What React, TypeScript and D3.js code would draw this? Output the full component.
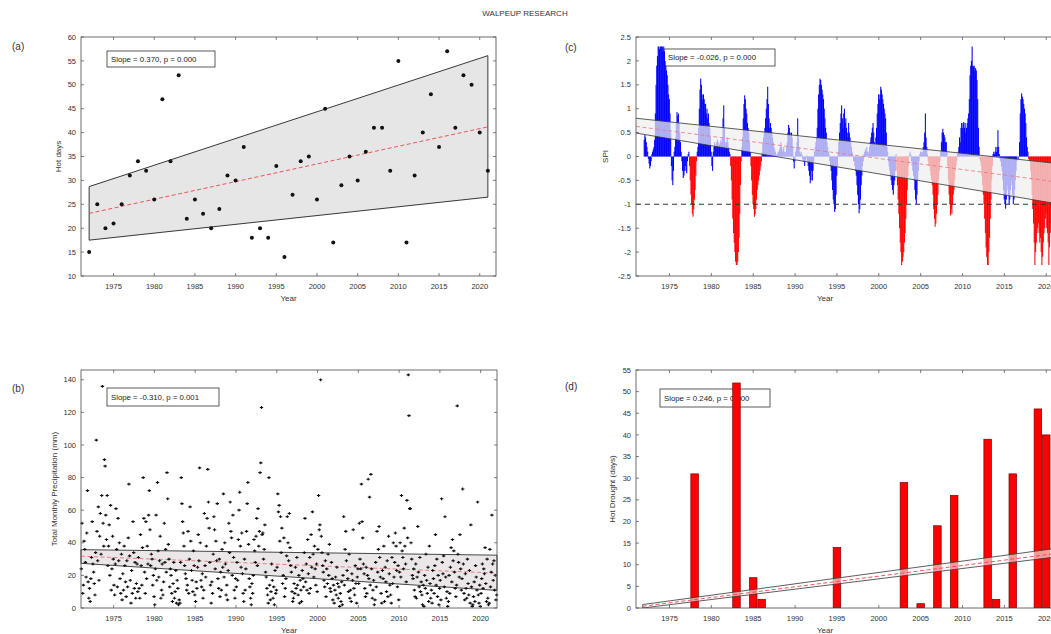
import React from 'react';
import * as d3 from 'd3';

const W = 1051;
const H = 634;
const FONT = 'Liberation Sans, Arial, Helvetica, sans-serif';
const AX = '#4a4a4a';

// ---------- shared ----------
const title = 'WALPEUP RESEARCH';
const xDomain = [1971, 2022];
const yearTicks = [1975, 1980, 1985, 1990, 1995, 2000, 2005, 2010, 2015, 2020];

// ---------- (a) Hot days ----------
const hotStartYear = 1972;
const hotDays = [15, 25, 20, 21, 25, 31, 34, 32, 26, 47, 34, 52, 22, 26, 23, 20, 24, 31, 30, 37,
  18, 20, 18, 33, 14, 27, 34, 35, 26, 45, 17, 29, 35, 30, 36, 41, 41, 32, 55, 17,
  31, 40, 48, 37, 57, 41, 52, 50, 40, 32];
const hotBandYears = [1972, 2021];
const hotUpper = [28.7, 56.1];
const hotLower = [17.5, 26.5];
const hotFit = [23.1, 41.2];
const hotYTicks = [10, 15, 20, 25, 30, 35, 40, 45, 50, 55, 60];
const hotLegend = 'Slope = 0.370, p = 0.000';

// ---------- (b) Total monthly precipitation ----------
const precipStartYear = 1971;
const precipByYear = [
  [24, 52, 9, 14, 41, 36, 28, 19, 46, 72, 16, 6],
  [12, 4, 18, 31, 53, 27, 22, 15, 8, 34, 103, 47],
  [29, 62, 17, 44, 58, 33, 69, 136, 52, 38, 91, 87],
  [57, 42, 69, 26, 38, 51, 20, 63, 11, 24, 44, 30],
  [14, 8, 27, 61, 36, 13, 55, 29, 40, 18, 9, 33],
  [5, 21, 11, 38, 26, 16, 7, 29, 13, 43, 76, 32],
  [17, 3, 23, 9, 53, 34, 12, 28, 6, 15, 27, 10],
  [31, 12, 6, 45, 26, 14, 37, 80, 55, 22, 9, 53],
  [18, 38, 27, 57, 72, 48, 26, 33, 30, 14, 20, 7],
  [2, 24, 57, 17, 77, 35, 19, 29, 44, 6, 11, 27],
  [8, 16, 52, 28, 36, 22, 83, 67, 39, 30, 13, 24],
  [20, 9, 4, 15, 28, 6, 10, 23, 3, 17, 12, 2],
  [5, 3, 28, 80, 64, 53, 46, 38, 26, 21, 18, 11],
  [14, 47, 9, 30, 62, 41, 23, 17, 10, 35, 26, 8],
  [4, 16, 12, 25, 45, 29, 86, 40, 17, 13, 21, 6],
  [11, 58, 26, 19, 38, 55, 85, 65, 49, 28, 14, 3],
  [16, 9, 33, 56, 48, 24, 41, 29, 64, 18, 12, 30],
  [7, 22, 11, 36, 25, 70, 19, 40, 27, 8, 14, 5],
  [23, 52, 34, 65, 47, 43, 20, 57, 31, 11, 6, 18],
  [13, 28, 17, 42, 60, 71, 38, 25, 46, 21, 9, 4],
  [30, 11, 24, 47, 64, 77, 39, 18, 13, 6, 2, 15],
  [9, 20, 42, 35, 28, 44, 55, 26, 61, 38, 47, 83],
  [89, 123, 45, 46, 30, 36, 51, 22, 19, 12, 8, 3],
  [80, 14, 5, 10, 27, 17, 6, 13, 2, 23, 9, 11],
  [25, 70, 59, 63, 41, 56, 34, 49, 15, 20, 43, 7],
  [12, 18, 32, 56, 40, 29, 58, 37, 26, 22, 10, 4],
  [6, 15, 9, 25, 12, 31, 14, 8, 20, 3, 17, 11],
  [4, 23, 18, 13, 34, 55, 16, 27, 11, 42, 21, 9],
  [31, 12, 45, 25, 59, 33, 19, 38, 24, 14, 27, 10],
  [36, 69, 48, 51, 140, 44, 34, 26, 22, 17, 13, 29],
  [7, 24, 15, 33, 20, 39, 12, 10, 28, 18, 5, 14],
  [3, 11, 19, 8, 25, 15, 6, 13, 1, 9, 4, 16],
  [2, 20, 56, 14, 36, 47, 29, 23, 18, 10, 33, 6],
  [11, 4, 21, 17, 48, 12, 8, 26, 15, 3, 19, 24],
  [15, 52, 30, 24, 76, 53, 43, 27, 21, 12, 7, 25],
  [9, 20, 79, 18, 68, 14, 82, 24, 6, 11, 17, 2],
  [5, 28, 13, 47, 22, 36, 50, 31, 19, 9, 3, 23],
  [18, 38, 4, 25, 16, 10, 29, 7, 44, 21, 14, 8],
  [3, 31, 15, 40, 19, 28, 46, 38, 23, 13, 26, 5],
  [22, 40, 19, 69, 35, 31, 24, 49, 38, 27, 16, 66],
  [43, 143, 118, 61, 61, 40, 30, 20, 18, 24, 11, 7],
  [27, 6, 19, 50, 22, 13, 31, 10, 16, 8, 2, 14],
  [1, 20, 12, 33, 17, 9, 25, 4, 38, 15, 6, 11],
  [3, 23, 18, 9, 26, 45, 14, 30, 7, 20, 2, 12],
  [17, 5, 67, 28, 21, 32, 13, 56, 19, 6, 10, 1],
  [4, 20, 9, 25, 37, 16, 42, 29, 35, 22, 12, 7],
  [14, 124, 33, 28, 19, 45, 24, 11, 18, 73, 27, 9],
  [5, 21, 12, 6, 30, 15, 8, 23, 3, 51, 13, 1],
  [2, 7, 16, 4, 26, 19, 11, 65, 8, 3, 14, 1],
  [9, 18, 27, 12, 24, 21, 37, 15, 4, 30, 6, 2],
  [3, 36, 13, 22, 57, 27, 17, 29, 11, 20, 5, 8],
];
const precipBandYears = [1971, 2022];
const precipUpper = [35.8, 32.4];
const precipLower = [27.4, 10.8];
const precipFit = [31.8, 21.4];
const precipYTicks = [0, 20, 40, 60, 80, 100, 120, 140];
const precipYMax = 146;
const precipLegend = 'Slope = -0.310, p = 0.001';

// ---------- (c) SPI ----------
const spiStartYear = 1971;
const spiByYear: (number | null)[][] = [
  [null, null, null, null, null, null, null, null, null, null, null, 0.35],
  [0.45, 0.4, 0.3, 0.2, 0.1, -0.05, -0.15, -0.25, -0.2, -0.1, 0.05, 0.1],
  [0.15, 0.2, 0.35, 0.9, 1.5, 1.9, 2.1, 2.3, 2.3, 2.25, 2.3, 2.3],
  [2.3, 2.3, 2.2, 2.3, 2.2, 2.0, 1.9, 1.8, 1.7, 1.5, 1.3, 1.2],
  [0.9, 0.5, -0.2, -0.5, -0.6, -0.3, 0.1, 0.2, 0.4, 0.7, 0.93, 0.85],
  [0.9, 0.7, 0.5, 0.3, 0.1, -0.1, -0.3, -0.45, -0.4, -0.3, -0.2, -0.3],
  [-0.35, -0.1, 0.05, 0.1, -0.2, -0.5, -0.8, -1.0, -1.2, -1.26, -1.1, -0.9],
  [-0.7, -0.4, -0.1, 0.1, 0.2, 0.6, 1.0, 1.4, 1.63, 1.5, 1.3, 1.2],
  [1.3, 1.2, 1.1, 1.1, 0.9, 1.0, 0.8, 0.9, 0.7, 0.6, 0.4, 0.1],
  [-0.2, -0.3, 0.1, 0.2, 0.3, 0.25, 0.2, 0.3, 0.35, 0.3, 0.2, 0.25],
  [0.3, 0.35, 0.3, 0.4, 0.8, 1.07, 0.6, 0.3, 0.25, 0.3, 0.4, 0.3],
  [0.2, 0.1, 0.05, -0.2, -0.5, -0.9, -1.3, -1.6, -1.8, -2.0, -2.2, -2.27],
  [-2.27, -2.2, -2.0, -1.7, -1.2, -0.6, -0.1, 0.2, 0.4, 0.8, 1.1, 1.28],
  [1.2, 1.0, 0.9, 0.7, 0.6, 0.5, 0.3, 0.1, -0.2, -0.5, -0.8, -1.0],
  [-1.1, -1.26, -1.2, -1.1, -0.9, -0.7, -0.6, -0.5, -0.4, -0.3, -0.2, -0.1],
  [0.1, 0.3, 0.4, 0.5, 0.6, 0.8, 1.0, 1.2, 1.46, 1.1, 0.8, 0.6],
  [0.7, 0.6, 0.5, 0.4, 0.3, 0.2, 0.15, 0.1, 0.05, 0.02, 0.05, 0.1],
  [0.1, 0.15, 0.2, 0.3, 0.2, 0.1, 0.15, 0.2, 0.1, 0.05, 0.1, 0.2],
  [0.3, 0.5, 0.66, 0.6, 0.5, 0.4, 0.5, 0.4, 0.2, -0.1, -0.25, -0.1],
  [0.1, 0.2, 0.3, 0.8, 0.4, 0.2, 0.1, 0.05, 0.1, 0.05, -0.05, -0.1],
  [-0.1, -0.2, -0.1, -0.05, 0.02, -0.1, -0.2, -0.3, -0.4, -0.56, -0.5, -0.3],
  [-0.5, -0.3, -0.1, 0.1, 0.2, 0.3, 0.4, 0.6, 1.0, 1.3, 1.5, 1.63],
  [1.6, 1.5, 1.4, 1.3, 1.2, 1.0, 0.8, 0.6, 0.5, 0.3, 0.2, 0.1],
  [0.05, -0.1, -0.2, -0.3, -0.5, -0.7, -0.9, -1.0, -1.16, -1.1, -0.8, -0.4],
  [-0.2, 0.1, 0.3, 0.5, 0.7, 0.9, 1.07, 0.8, 0.6, 0.9, 1.0, 0.7],
  [0.8, 0.6, 0.5, 0.4, 0.7, 0.5, 0.4, 0.3, 0.2, 0.1, 0.05, -0.1],
  [-0.1, -0.2, -0.3, -0.4, -0.6, -0.8, -1.0, -1.19, -1.1, -0.9, -0.6, -0.4],
  [-0.2, -0.1, 0.05, 0.1, 0.15, 0.1, 0.2, 0.1, 0.05, 0.1, 0.2, 0.3],
  [0.4, 0.5, 0.6, 0.7, 0.5, 0.3, 0.2, 0.4, 0.6, 0.9, 1.1, 1.3],
  [1.2, 1.3, 1.46, 1.4, 1.3, 1.2, 1.1, 1.0, 0.9, 0.8, 0.5, 0.2],
  [0.1, -0.1, -0.2, -0.3, -0.4, -0.5, -0.6, -0.7, -0.8, -0.6, -0.5, -0.3],
  [0.05, -0.3, -0.6, -0.9, -1.2, -1.5, -1.8, -2.0, -2.27, -2.2, -2.1, -2.0],
  [-1.8, -1.6, -1.3, -1.0, -0.7, -0.4, -0.2, 0.02, 0.1, 0.05, -0.1, -0.2],
  [-0.3, -0.4, -0.5, -0.7, -0.9, -1.0, -0.8, -0.5, -0.3, -0.1, 0.05, 0.1],
  [0.1, 0.05, 0.1, 0.2, 0.3, 0.5, 0.9, 0.4, 0.2, 0.05, -0.1, -0.2],
  [-0.2, -0.3, -0.4, -0.5, -0.6, -0.8, -1.1, -1.3, -1.47, -1.4, -1.2, -1.0],
  [-0.8, -0.5, -0.3, -0.1, 0.1, 0.3, 0.5, 0.58, 0.5, 0.45, 0.4, 0.3],
  [0.3, 0.1, -0.2, -0.5, -0.8, -1.0, -1.23, -1.1, -1.2, -1.0, -0.8, -0.7],
  [-0.5, -0.3, -0.2, -0.1, 0.05, 0.1, 0.2, 0.4, 0.3, 0.6, 0.7, 0.6],
  [0.7, 0.72, 0.6, 0.7, 0.5, 0.6, 0.7, 0.8, 0.9, 1.2, 1.7, 1.9],
  [2.0, 2.3, 1.9, 1.88, 1.9, 1.8, 1.85, 1.8, 1.6, 1.2, 0.6, 0.2],
  [-0.05, -0.1, -0.2, -0.4, -0.6, -0.8, -1.0, -1.3, -1.6, -1.9, -2.1, -2.27],
  [-2.27, -2.0, -1.7, -1.3, -0.9, -0.5, -0.2, 0.05, 0.1, 0.05, 0.1, 0.2],
  [0.1, 0.2, 0.55, 0.2, 0.05, -0.05, -0.1, -0.2, -0.3, -0.5, -0.7, -0.9],
  [-1.0, -1.09, -0.9, -0.7, -0.6, -0.8, -1.0, -0.9, -0.7, -0.5, -0.6, -0.8],
  [-1.0, -0.9, -0.7, -0.5, -0.3, -0.1, 0.0, -0.05, 0.0, 0.3, 0.9, 1.2],
  [1.32, 1.25, 1.2, 1.1, 1.0, 0.9, 0.7, 0.4, 0.2, 0.1, -0.05, -0.1],
  [-0.1, -0.3, -0.5, -0.8, -1.1, -1.4, -1.8, -2.27, -2.0, -1.8, -1.6, -1.5],
  [-1.4, -1.6, -1.8, -1.7, -2.0, -2.27, -2.1, -1.8, -1.6, -1.5, -1.3, -1.2],
  [-1.5, -1.6, -1.8, -2.27, -1.9, -1.6, -1.4, -1.2, -1.0, -0.9, -0.7, -0.5],
  [-0.4, -0.4, -0.3, -0.3, -0.2, -0.2, -0.1, 0.05, 0.1, 0.2, 0.2, 0.3],
];
const spiBandYears = [1971, 2022];
const spiUpper = [0.8, -0.16];
const spiLower = [0.49, -1.01];
const spiFit = [0.63, -0.55];
const spiDroughtLevel = -1;
const spiRedThreshold = -1.2;
const spiYTicks = [-2.5, -2, -1.5, -1, -0.5, 0, 0.5, 1, 1.5, 2, 2.5];
const spiLegend = 'Slope = -0.026, p = 0.000';

// ---------- (d) Hot drought ----------
const hdYears = [1978, 1983, 1985, 1986, 1995, 2003, 2005, 2007, 2009, 2013, 2014, 2016, 2019, 2020];
const hdDays = [31, 52, 7, 2, 14, 29, 1, 19, 26, 39, 2, 31, 46, 40];
const hdBandYears = [1971.8, 2022];
const hdUpper = [0.8, 14.0];
const hdLower = [0.0, 12.0];
const hdFit = [0.4, 12.8];
const hdYTicks = [0, 5, 10, 15, 20, 25, 30, 35, 40, 45, 50, 55];
const hdLegend = 'Slope = 0.246, p = 0.000';

// ---------- layout ----------
type Box = { l: number; r: number; t: number; b: number };
const boxA: Box = { l: 81, r: 496, t: 37, b: 276 };
const boxB: Box = { l: 81, r: 497, t: 370, b: 608 };
const boxC: Box = { l: 636, r: 1063, t: 37, b: 276 };
const boxD: Box = { l: 636, r: 1063, t: 370, b: 608 };

function Frame({ box, x, y, yTicks, yFmt, yLabel, yLabelOff, label, labelX, labelY }: any) {
  const tl = 3;
  return (
    <g fontFamily={FONT}>
      <rect x={box.l} y={box.t} width={box.r - box.l} height={box.b - box.t} fill="none" stroke={AX} strokeWidth={0.8} />
      {yearTicks.map((t) => (
        <g key={'x' + t}>
          <line x1={x(t)} x2={x(t)} y1={box.b} y2={box.b - tl} stroke={AX} strokeWidth={0.7} />
          <line x1={x(t)} x2={x(t)} y1={box.t} y2={box.t + tl} stroke={AX} strokeWidth={0.7} />
          <text x={x(t)} y={box.b + 12.5} textAnchor="middle" fontSize={7.5} fill="#333">{t}</text>
        </g>
      ))}
      {yTicks.map((t: number) => (
        <g key={'y' + t}>
          <line x1={box.l} x2={box.l + tl} y1={y(t)} y2={y(t)} stroke={AX} strokeWidth={0.7} />
          <line x1={box.r} x2={box.r - tl} y1={y(t)} y2={y(t)} stroke={AX} strokeWidth={0.7} />
          <text x={box.l - 5} y={y(t) + 2.6} textAnchor="end" fontSize={7.5} fill="#333">{yFmt ? yFmt(t) : t}</text>
        </g>
      ))}
      <text x={(box.l + Math.min(box.r, 1014)) / 2} y={box.b + 25} textAnchor="middle" fontSize={8} fill="#333">Year</text>
      <text transform={`translate(${box.l - yLabelOff},${(box.t + box.b) / 2}) rotate(-90)`} textAnchor="middle" fontSize={8} fill="#333">{yLabel}</text>
      <text x={labelX} y={labelY} fontSize={10} fill="#333">{label}</text>
    </g>
  );
}

function Legend({ x, y, w, h, text }: any) {
  return (
    <g fontFamily={FONT}>
      <rect x={x} y={y} width={w} height={h} fill="#fff" stroke="#333" strokeWidth={0.8} />
      <text x={x + 4} y={y + h / 2 + 2.8} fontSize={7.8} fill="#222">{text}</text>
    </g>
  );
}

function bandPath(x: any, y: any, yrs: number[], up: number[], lo: number[]) {
  const pts: [number, number][] = [
    [x(yrs[0]), y(up[0])], [x(yrs[1]), y(up[1])], [x(yrs[1]), y(lo[1])], [x(yrs[0]), y(lo[0])],
  ];
  return 'M' + pts.map((p) => p.join(',')).join('L') + 'Z';
}

export default function App() {
  const xA = d3.scaleLinear().domain(xDomain).range([boxA.l, boxA.r]);
  const yA = d3.scaleLinear().domain([10, 60]).range([boxA.b, boxA.t]);
  const xB = d3.scaleLinear().domain(xDomain).range([boxB.l, boxB.r]);
  const yB = d3.scaleLinear().domain([0, precipYMax]).range([boxB.b, boxB.t]);
  const xC = d3.scaleLinear().domain(xDomain).range([boxC.l, boxC.r]);
  const yC = d3.scaleLinear().domain([-2.5, 2.5]).range([boxC.b, boxC.t]);
  const xD = d3.scaleLinear().domain(xDomain).range([boxD.l, boxD.r]);
  const yD = d3.scaleLinear().domain([0, 55]).range([boxD.b, boxD.t]);

  const precipPts: { t: number; v: number }[] = [];
  precipByYear.forEach((row, i) => row.forEach((v, m) => precipPts.push({ t: precipStartYear + i + (m + 0.5) / 12, v })));

  const spi: { t: number; v: number }[] = [];
  spiByYear.forEach((row, i) => row.forEach((v, m) => { if (v !== null) spi.push({ t: spiStartYear + i + m / 12, v }); }));
  const spiColor: string[] = spi.map(() => '#0000ff');
  let k = 0;
  while (k < spi.length) {
    if (spi[k].v < 0) {
      let j = k;
      let mn = 0;
      while (j < spi.length && spi[j].v < 0) { mn = Math.min(mn, spi[j].v); j++; }
      const c = mn <= spiRedThreshold ? '#ff0000' : '#0000ff';
      for (let q = k; q < j; q++) spiColor[q] = c;
      k = j;
    } else k++;
  }
  const monthW = xC(xDomain[0] + 1 / 12) - xC(xDomain[0]);
  const hdBarW = xD(xDomain[0] + 0.9) - xD(xDomain[0]);

  return (
    <svg width={W} height={H} style={{ position: 'absolute', left: 0, top: 0, background: '#fff' }} fontFamily={FONT}>
      <defs>
        <clipPath id="clipC"><rect x={boxC.l} y={boxC.t} width={boxC.r - boxC.l} height={boxC.b - boxC.t} /></clipPath>
        <clipPath id="clipD"><rect x={boxD.l} y={boxD.t} width={boxD.r - boxD.l} height={boxD.b - boxD.t} /></clipPath>
      </defs>
      <rect x={0} y={0} width={W} height={H} fill="#fff" />
      <text x={525} y={16} textAnchor="middle" fontSize={8} fill="#333">{title}</text>

      {/* (a) */}
      <path d={bandPath(xA, yA, hotBandYears, hotUpper, hotLower)} fill="#e6e6e6" stroke="#222" strokeWidth={0.9} />
      <line x1={xA(hotBandYears[0])} y1={yA(hotFit[0])} x2={xA(hotBandYears[1])} y2={yA(hotFit[1])} stroke="#e8454a" strokeWidth={0.9} strokeDasharray="4 2.5" />
      {hotDays.map((v, i) => (
        <circle key={i} cx={xA(hotStartYear + i)} cy={yA(v)} r={2} fill="#111" />
      ))}
      <Legend x={107} y={51} w={108} h={16} text={hotLegend} />
      <Frame box={boxA} x={xA} y={yA} yTicks={hotYTicks} yLabel="Hot days" yLabelOff={20} label="(a)" labelX={12} labelY={50} />

      {/* (b) */}
      <path d={bandPath(xB, yB, precipBandYears, precipUpper, precipLower)} fill="#ebe6e8" stroke="#333" strokeWidth={0.9} />
      <line x1={xB(precipBandYears[0])} y1={yB(precipFit[0])} x2={xB(precipBandYears[1])} y2={yB(precipFit[1])} stroke="#e8757a" strokeWidth={0.9} strokeDasharray="4 2.5" />
      {precipPts.map((p, i) => (
        <path key={i} d={`M${xB(p.t) - 1.7},${yB(p.v)}h3.4M${xB(p.t)},${yB(p.v) - 1.4}v2.8`} stroke="#111" strokeWidth={1.15} />
      ))}
      <Legend x={107} y={388} w={112} h={18} text={precipLegend} />
      <Frame box={boxB} x={xB} y={yB} yTicks={precipYTicks} yLabel="Total Monthly Precipitation (mm)" yLabelOff={24} label="(b)" labelX={12} labelY={392} />

      {/* (c) */}
      <Legend x={664} y={49} w={111} h={17} text={spiLegend} />
      <g clipPath="url(#clipC)">
        {spi.map((p, i) => (
          <rect key={i} x={xC(p.t)} width={monthW + 0.35} y={Math.min(yC(p.v), yC(0))} height={Math.abs(yC(p.v) - yC(0))} fill={spiColor[i]} />
        ))}
        <path d={bandPath(xC, yC, spiBandYears, spiUpper, spiLower)} fill="#eeeeee" fillOpacity={0.72} stroke="none" />
        <line x1={xC(spiBandYears[0])} y1={yC(spiUpper[0])} x2={xC(spiBandYears[1])} y2={yC(spiUpper[1])} stroke="#333" strokeWidth={0.8} />
        <line x1={xC(spiBandYears[0])} y1={yC(spiLower[0])} x2={xC(spiBandYears[1])} y2={yC(spiLower[1])} stroke="#333" strokeWidth={0.8} />
        <line x1={xC(spiBandYears[0])} y1={yC(spiFit[0])} x2={xC(spiBandYears[1])} y2={yC(spiFit[1])} stroke="#e8757a" strokeWidth={0.8} strokeDasharray="4 2.5" />
        <line x1={boxC.l} x2={boxC.r} y1={yC(spiDroughtLevel)} y2={yC(spiDroughtLevel)} stroke="#333" strokeWidth={1.1} strokeDasharray="5 4" />
      </g>
      <Frame box={boxC} x={xC} y={yC} yTicks={spiYTicks} yLabel="SPI" yLabelOff={28} label="(c)" labelX={565} labelY={51} />

      {/* (d) */}
      <Legend x={660} y={389} w={110} h={18} text={hdLegend} />
      <g clipPath="url(#clipD)">
        {hdYears.map((yr, i) => (
          <rect key={yr} x={xD(yr) - hdBarW / 2} width={hdBarW} y={yD(hdDays[i])} height={yD(0) - yD(hdDays[i])} fill="#ff0000" stroke="#7a0000" strokeWidth={0.7} />
        ))}
        <path d={bandPath(xD, yD, hdBandYears, hdUpper, hdLower)} fill="#ffffff" fillOpacity={0.6} stroke="#333" strokeWidth={0.8} />
        <line x1={xD(hdBandYears[0])} y1={yD(hdFit[0])} x2={xD(hdBandYears[1])} y2={yD(hdFit[1])} stroke="#e8454a" strokeWidth={0.9} strokeDasharray="4 2.5" />
      </g>
      <Frame box={boxD} x={xD} y={yD} yTicks={hdYTicks} yLabel="Hot Drought (days)" yLabelOff={21} label="(d)" labelX={565} labelY={390} />
    </svg>
  );
}
